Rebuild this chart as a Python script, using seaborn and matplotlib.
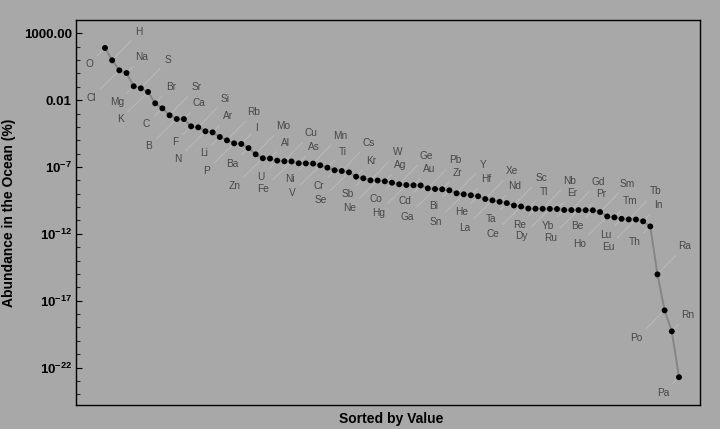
import matplotlib
matplotlib.use("Agg")
import numpy as np
import pandas as pd
import seaborn as sns
import matplotlib.pyplot as plt
from matplotlib.ticker import FixedLocator, FixedFormatter, LogLocator, NullFormatter

# ---------------- data (sorted by value) ----------------
elements = ["O", "H", "Cl", "Na", "Mg", "S", "K", "Br", "C", "Sr", "B", "Ca", "F", "Si",
            "N", "Ar", "Li", "Rb", "P", "I", "Ba", "Mo", "Zn", "Al", "U", "Cu", "Fe",
            "As", "Ni", "Mn", "V", "Ti", "Cr", "Cs", "Se", "Kr", "Sb", "W", "Ne", "Ag",
            "Co", "Ge", "Hg", "Au", "Cd", "Pb", "Ga", "Zr", "Bi", "Y", "Sn", "Hf", "He",
            "Xe", "La", "Nd", "Ta", "Sc", "Ce", "Tl", "Re", "Nb", "Dy", "Er", "Yb", "Gd",
            "Ru", "Pr", "Be", "Sm", "Ho", "Tm", "Lu", "Tb", "Eu", "In", "Th", "Ra", "Po",
            "Rn", "Pa"]
abundance = [80.0, 9.6, 1.7, 1.07, 0.109, 0.077, 0.041, 5.8e-3, 2.45e-3, 7.4e-4,
             3.9e-4, 3.85e-4, 1.1e-4, 9.3e-5, 4.7e-5, 3.9e-5, 1.75e-5, 9.9e-6, 5.9e-6,
             5.3e-6, 2.6e-6, 8.9e-7, 4.5e-7, 4.3e-7, 3.0e-7, 2.7e-7, 2.6e-7, 1.9e-7,
             1.85e-7, 1.8e-7, 1.34e-7, 8.9e-8, 5.7e-8, 5.0e-8, 4.0e-8, 1.9e-8, 1.43e-8,
             1.0e-8, 9.8e-9, 8.5e-9, 6.7e-9, 5.1e-9, 4.5e-9, 4.3e-9, 4.2e-9, 2.55e-9,
             2.26e-9, 2.15e-9, 1.8e-9, 1.08e-9, 9.1e-10, 7.7e-10, 6.5e-10, 4.05e-10,
             3.2e-10, 2.5e-10, 2.0e-10, 1.32e-10, 1.11e-10, 7.9e-11, 7.6e-11, 7.5e-11,
             7.4e-11, 7.2e-11, 6.1e-11, 6.0e-11, 6.0e-11, 5.9e-11, 5.8e-11, 4.3e-11,
             2.0e-11, 1.7e-11, 1.33e-11, 1.2e-11, 1.18e-11, 8.7e-12, 3.6e-12, 9.3e-16,
             1.9e-18, 5.1e-20, 1.9e-23]
ytick_values = [1e3, 1e-2, 1e-7, 1e-12, 1e-17, 1e-22]
ytick_labels = ["1000.00", "0.01", r"$10^{-7}$", r"$10^{-12}$", r"$10^{-17}$", r"$10^{-22}$"]
x_label = "Sorted by Value"
y_label = "Abundance in the Ocean (%)"

# ---------------- style ----------------
BG = "#a8a8a8"
sns.set_theme(style="white")
plt.rcParams["font.family"] = ["Liberation Sans", "DejaVu Sans"]
plt.rcParams["mathtext.fontset"] = "custom"
plt.rcParams["mathtext.rm"] = "Liberation Sans:bold"
plt.rcParams["mathtext.bf"] = "Liberation Sans:bold"
plt.rcParams["mathtext.default"] = "bf"

W, H = 720, 429
fig = plt.figure(figsize=(W / 100, H / 100), dpi=100, facecolor=BG)
ax = fig.add_axes([76 / W, 1 - 405 / H, 624 / W, 385 / H])
ax.set_facecolor(BG)
ax.set_yscale("log")

df = pd.DataFrame({"rank": np.arange(1, len(elements) + 1),
                   "element": elements, "abundance": abundance})

sns.lineplot(data=df, x="rank", y="abundance", color="#858585", lw=1.4, ax=ax,
             zorder=2)
sns.scatterplot(data=df, x="rank", y="abundance", color="black", s=18,
                edgecolor="none", ax=ax, zorder=3)

# callout labels: 4-step cycle of positions along the diagonal
pattern = [(-16, -16), (27, 28), (-28, -27.5), (15.5, 16)]
for i, row in df.iterrows():
    dx, dy = pattern[i % 4]
    ax.annotate(row["element"], xy=(row["rank"], row["abundance"]),
                xytext=(dx, dy), textcoords="offset pixels",
                ha="center", va="center", fontsize=7.3, color="#474747",
                arrowprops=dict(arrowstyle="-", color="#bdbdbd", lw=0.6,
                                shrinkA=1, shrinkB=2.5),
                zorder=1)

ax.set_xlim(-3.04, 83.93)
ax.set_ylim(10 ** -24.8, 10 ** 3.995)

ax.yaxis.set_major_locator(FixedLocator(ytick_values))
ax.yaxis.set_major_formatter(FixedFormatter(ytick_labels))
ax.yaxis.set_minor_locator(LogLocator(base=10, subs=(1.0,), numticks=100))
ax.yaxis.set_minor_formatter(NullFormatter())
ax.set_xticks([])

ax.tick_params(axis="y", which="major", direction="in", length=4.2, width=0.8,
               left=True, right=False, labelsize=9.5, pad=3, colors="black")
ax.tick_params(axis="y", which="minor", direction="in", length=2.8, width=0.8,
               left=True, right=False)
for lab in ax.get_yticklabels():
    lab.set_fontweight("bold")

for sp in ax.spines.values():
    sp.set_color("black")
    sp.set_linewidth(1.0)
    sp.set_visible(True)

ax.set_xlabel(x_label, fontsize=10, fontweight="bold", color="black")
ax.set_ylabel(y_label, fontsize=10, fontweight="bold", color="black")
ax.xaxis.set_label_coords((391 - 76) / 624, -(419 - 405) / 385)
ax.xaxis.label.set_va("center")
ax.yaxis.set_label_coords((9 - 76) / 624, 0.5)
ax.yaxis.label.set_va("center")

fig.savefig("out.png", dpi=100, facecolor=BG)
